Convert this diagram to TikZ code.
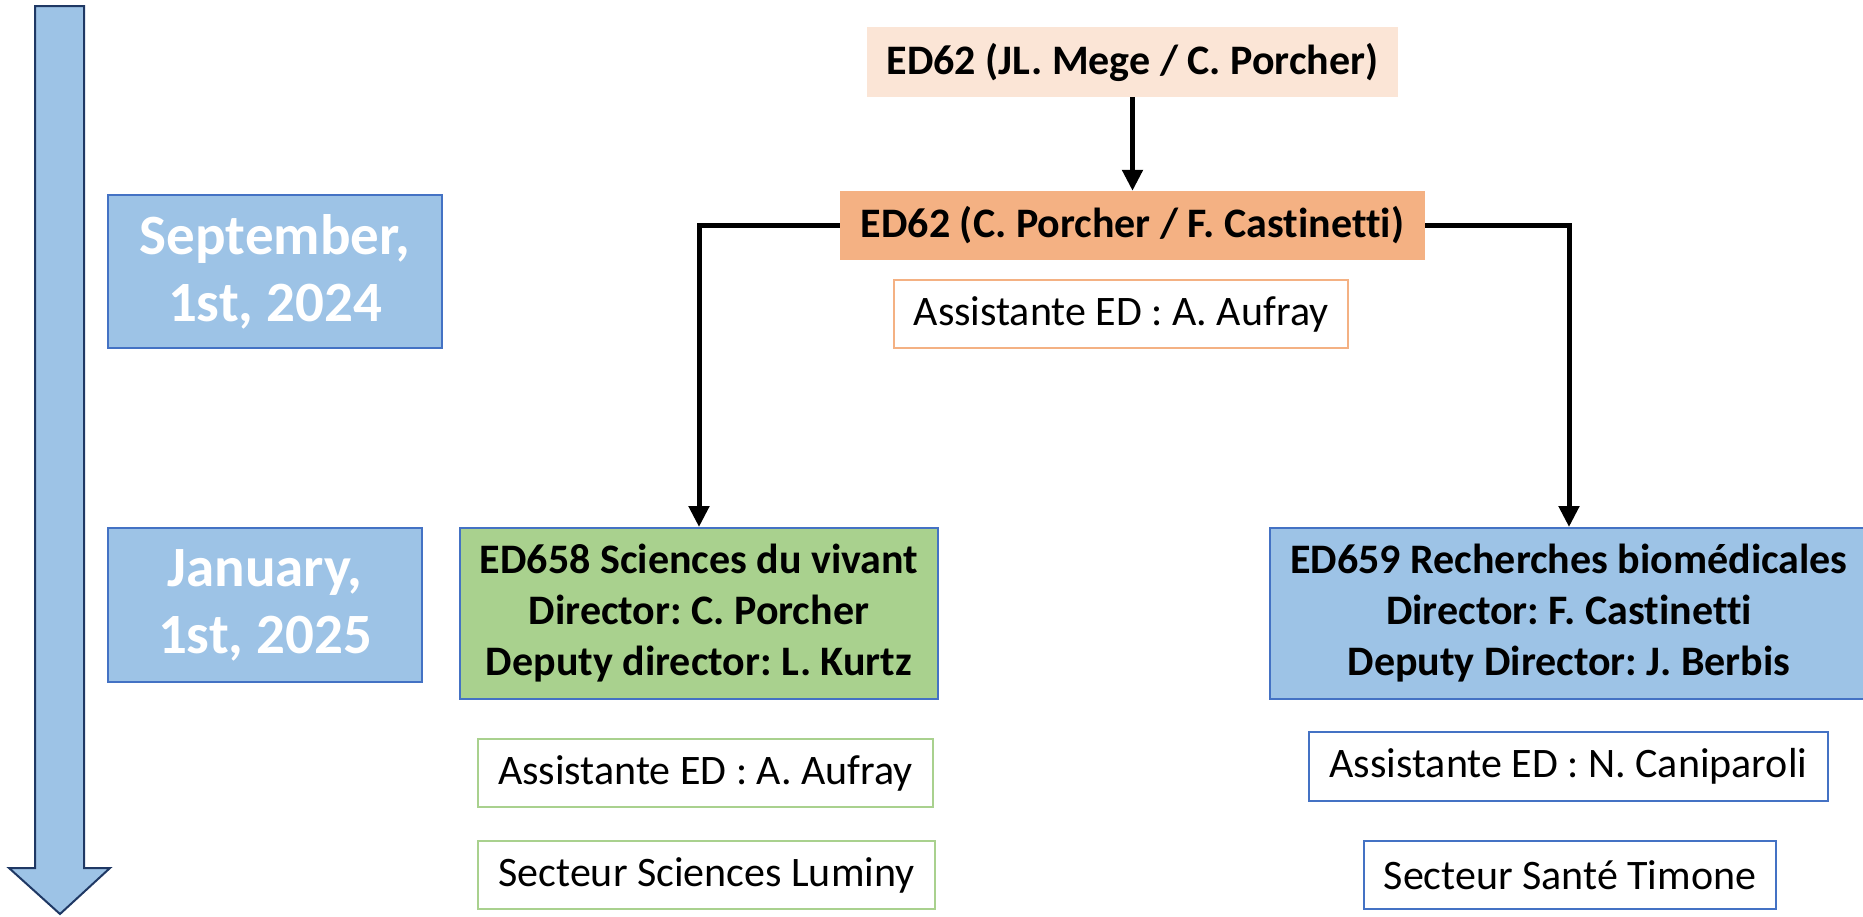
\documentclass[tikz,border=0pt]{standalone}
\usepackage{fontspec}
\setmainfont{Carlito}[Ligatures=NoCommon]
\usetikzlibrary{arrows.meta}
\frenchspacing
\definecolor{peachL}{HTML}{FBE5D6}
\definecolor{peach}{HTML}{F4B183}
\definecolor{greenF}{HTML}{A9D18E}
\definecolor{blueF}{HTML}{9DC3E6}
\definecolor{blueB}{HTML}{4472C4}
\definecolor{navy}{HTML}{1F3864}
\tikzset{
  box/.style={rectangle, inner sep=0pt, align=center, font=\fontsize{42}{51}\selectfont\frenchspacing},
  bbox/.style={box, font=\fontsize{42}{51}\selectfont\bfseries\frenchspacing},
  datebox/.style={rectangle, inner sep=0pt, align=center, fill=blueF, draw=blueB, line width=2pt,
     text=white, font=\fontsize{57}{67}\selectfont\bfseries},
  conn/.style={line width=5pt, -{Triangle[length=21pt,width=20pt]}},
}
\begin{document}
\begin{tikzpicture}[x=1pt,y=-1pt]
\useasboundingbox (0,0) rectangle (1863,916);
% timeline arrow
\draw[fill=blueF, draw=navy, line width=2pt, line join=miter]
  (35,6) -- (84,6) -- (84,868) -- (110,868) -- (60,914) -- (9,868) -- (35,868) -- cycle;
% date boxes
\node[datebox, minimum width=334pt, minimum height=153pt] (sep) at (275,271.5) {September,\\1st, 2024};
\node[datebox, minimum width=314pt, minimum height=154pt] (jan) at (265,605) {January,\\1st, 2025};
% ED62 boxes
\node[bbox, fill=peachL, minimum width=531pt, minimum height=70pt] (top) at (1132.5,62) {ED62 (JL. Mege / C. Porcher)};
\node[bbox, fill=peach, minimum width=585pt, minimum height=69pt] (mid) at (1132.5,225.5) {ED62 (C. Porcher / F. Castinetti)};
\node[box, draw=peach, line width=1.5pt, minimum width=454pt, minimum height=68pt] (ass1) at (1121,314) {Assistante ED : A. Aufray};
% ED658
\node[bbox, fill=greenF, draw=blueB, line width=2pt, minimum width=478pt, minimum height=171pt] (ed658) at (699,613.5)
  {ED658 Sciences du vivant\\Director: C. Porcher\\Deputy director: L. Kurtz};
\node[box, draw=greenF, line width=2pt, minimum width=455pt, minimum height=68pt] (assG) at (705.5,773) {Assistante ED : A. Aufray};
\node[box, draw=greenF, line width=2pt, minimum width=457pt, minimum height=68pt] (secL) at (706.5,875) {Secteur Sciences Luminy};
% ED659
\node[bbox, fill=blueF, draw=blueB, line width=2pt, minimum width=598pt, minimum height=171pt] (ed659) at (1569,613.5)
  {ED659 Recherches biomédicales\\Director: F. Castinetti\\Deputy Director: J. Berbis};
\node[box, draw=blueB, line width=2pt, minimum width=519pt, minimum height=69pt] (assN) at (1568.5,766.5) {Assistante ED : N. Caniparoli};
\node[box, draw=blueB, line width=2pt, minimum width=412pt, minimum height=68pt] (secT) at (1570,875) {Secteur Santé Timone};
% connectors
\draw[conn] (top.south) -- (mid.north);
\draw[conn] (mid.west) -| (ed658.north);
\draw[conn] (mid.east) -| (ed659.north);
\end{tikzpicture}
\end{document}
